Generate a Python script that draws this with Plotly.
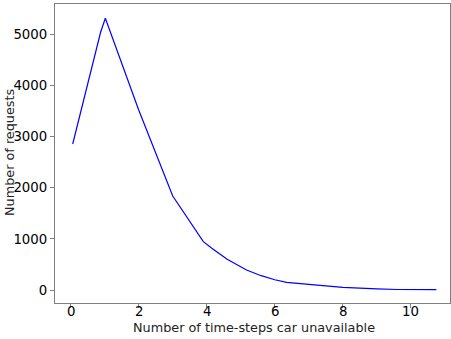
import plotly.graph_objects as go

steps = [0.06, 0.88, 1.02, 2.0, 3.0, 3.9, 4.15, 4.6, 5.17, 5.6, 6.0, 6.35, 7.0, 8.0, 9.0, 9.6, 10.75]
requests = [2855, 5039, 5313, 3520, 1838, 945, 815, 600, 391, 280, 200, 150, 110, 53, 22, 10, 6]
x_ticks = [0, 2, 4, 6, 8, 10]
y_ticks = [0, 1000, 2000, 3000, 4000, 5000]

fig = go.Figure(go.Scatter(x=steps, y=requests, mode="lines",
                           line=dict(color="#0000ff", width=1.2)))

tick_font = dict(family="DejaVu Sans", size=13.3, color="black")
axis_common = dict(showgrid=False, zeroline=False, showline=True, mirror=True,
                   linecolor="#808080", linewidth=1.2, ticks="outside", ticklen=4,
                   tickcolor="#808080", automargin=False, tickfont=tick_font)

fig.update_xaxes(range=[-0.46, 11.15], tickvals=x_ticks, showticklabels=False, **axis_common)
fig.update_yaxes(range=[-254, 5592], tickvals=y_ticks, **axis_common)

for t in x_ticks:
    fig.add_annotation(text=str(t), x=t, xref="x", yref="paper", y=-(311 - 303) / 299,
                       xanchor="center", yanchor="middle", showarrow=False, font=tick_font)

title_font = dict(family="DejaVu Sans", size=12.8, color="#222")
fig.add_annotation(text="Number of time-steps car unavailable", xref="paper", yref="paper",
                   x=(254 - 55) / 395, y=-(327 - 303) / 299, xanchor="center", yanchor="middle",
                   showarrow=False, font=title_font)
fig.add_annotation(text="Number of requests", xref="paper", yref="paper",
                   x=-(55 - 9) / 395, y=(303 - 152) / 299, xanchor="center", yanchor="middle",
                   textangle=-90, showarrow=False, font=title_font)

fig.update_layout(width=451, height=339, margin=dict(l=55, r=1, t=4, b=36, autoexpand=False),
                  plot_bgcolor="white", paper_bgcolor="white", showlegend=False)

fig.write_html("out.html", config={"displayModeBar": False},
               post_script="document.body.style.margin='0';")
